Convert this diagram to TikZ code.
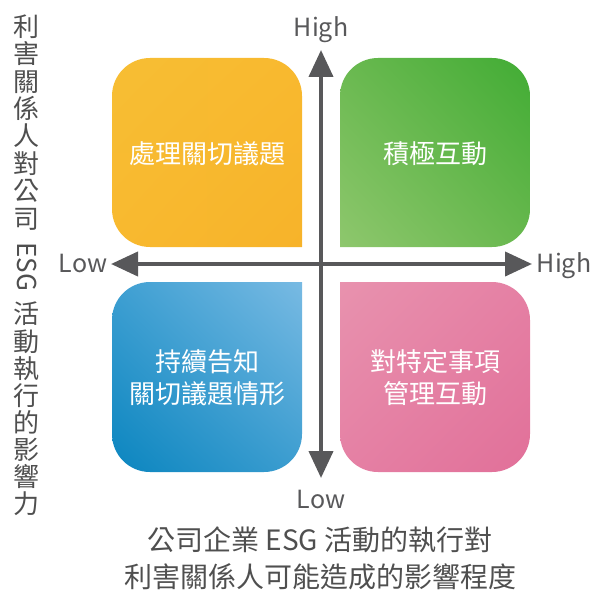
\documentclass[tikz,border=0pt]{standalone}
\usepackage{fontspec}
\setmainfont{Noto Sans CJK TC}
\usetikzlibrary{arrows.meta,shadings}
\definecolor{axisgray}{HTML}{58585A}
\definecolor{txtgray}{HTML}{4F4F4F}
\definecolor{orUL}{RGB}{247,190,52}
\definecolor{orM}{RGB}{248,185,47}
\definecolor{orLR}{RGB}{247,179,42}
\definecolor{grUL}{RGB}{106,185,80}
\definecolor{grUR}{RGB}{65,172,52}
\definecolor{grLL}{RGB}{142,199,109}
\definecolor{grLR}{RGB}{104,184,78}
\definecolor{blUL}{RGB}{62,159,210}
\definecolor{blUR}{RGB}{120,186,227}
\definecolor{blLL}{RGB}{10,133,191}
\definecolor{blLR}{RGB}{60,157,208}
\definecolor{pkUL}{RGB}{232,146,174}
\definecolor{pkM}{RGB}{229,128,164}
\definecolor{pkLR}{RGB}{225,112,153}
\begin{document}
\begin{tikzpicture}[x=1pt,y=1pt,
  vchar/.style={inner sep=0pt, anchor=center, text height=22.9pt, text depth=3.1pt,
    font=\fontsize{26}{26}\selectfont, text=txtgray},
  boxtxt/.style={inner sep=0pt, anchor=center, text height=22.9pt, text depth=3.1pt,
    font=\fontsize{26}{26}\selectfont, text=white},
  bottomtxt/.style={inner sep=0pt, anchor=base, text height=24.6pt, text depth=0pt,
    font=\fontsize{28}{28}\selectfont, text=txtgray},
  axislbl/.style={inner sep=0pt, text height=17pt, text depth=0pt, anchor=center,
    font=\fontsize{25}{25}\selectfont, text=axisgray},
  axisline/.style={line width=4pt, draw=axisgray, {Triangle[length=27pt,width=24pt]}-{Triangle[length=27pt,width=24pt]}}
]
\useasboundingbox (0,0) rectangle (593,590);

% quadrant boxes
\shade[upper left=orUL, upper right=orM, lower left=orM, lower right=orLR]
  (302,343) -- (150,343) arc[start angle=270,end angle=180,radius=38]
  -- (112,494) arc[start angle=180,end angle=90,radius=38]
  -- (264,532) arc[start angle=90,end angle=0,radius=38] -- cycle;

\shade[upper left=grUL, upper right=grUR, lower left=grLL, lower right=grLR]
  (340,343) -- (340,494) arc[start angle=180,end angle=90,radius=38]
  -- (492,532) arc[start angle=90,end angle=0,radius=38]
  -- (530,381) arc[start angle=0,end angle=-90,radius=38] -- cycle;

\shade[upper left=blUL, upper right=blUR, lower left=blLL, lower right=blLR]
  (302,308) -- (150,308) arc[start angle=90,end angle=180,radius=38]
  -- (112,156) arc[start angle=180,end angle=270,radius=38]
  -- (264,118) arc[start angle=270,end angle=360,radius=38] -- cycle;

\shade[upper left=pkUL, upper right=pkM, lower left=pkM, lower right=pkLR]
  (340,308) -- (492,308) arc[start angle=90,end angle=0,radius=38]
  -- (530,156) arc[start angle=0,end angle=-90,radius=38]
  -- (378,118) arc[start angle=270,end angle=180,radius=38] -- cycle;

% box texts
\node[boxtxt] (tl) at (207,436) {處理關切議題};
\node[boxtxt] (tr) at (435,436.5) {積極互動};
\node[boxtxt] (bl1) at (207,228) {持續告知};
\node[boxtxt] (bl2) at (207,196.5) {關切議題情形};
\node[boxtxt] (br1) at (435,228) {對特定事項};
\node[boxtxt] (br2) at (435,196.5) {管理互動};

% axes
\coordinate (vtop) at (321,540);
\coordinate (vbot) at (321,112);
\coordinate (hleft) at (111,326);
\coordinate (hright) at (532,326);
\draw[axisline] (vbot) -- (vtop);
\draw[axisline] (hleft) -- (hright);

% axis labels
\node[axislbl] (hightop) at (321,561.5) {High};
\node[axislbl] (lowbot) at (321,90.5) {Low};
\node[axislbl] (lowleft) at (83,326) {Low};
\node[axislbl] (highright) at (564,326) {High};

% left vertical title
\foreach \c [count=\i from 0] in {利,害,關,係,人,對,公,司}
  \node[vchar] (la\i) at (26,{590-26.5-27.4*\i}) {\c};
\node[vchar, rotate=-90, text height=17pt, text depth=0pt] (lesg) at (26,{590-267}) {ESG};
\foreach \c [count=\i from 0] in {活,動,執,行,的,影,響,力}
  \node[vchar] (lb\i) at (26,{590-314-27.1*\i}) {\c};

% bottom title
\node[bottomtxt] (bt1) at (320,39.4) {公司企業 ESG 活動的執行對};
\node[bottomtxt] (bt2) at (320,2.6) {利害關係人可能造成的影響程度};
\end{tikzpicture}
\end{document}
